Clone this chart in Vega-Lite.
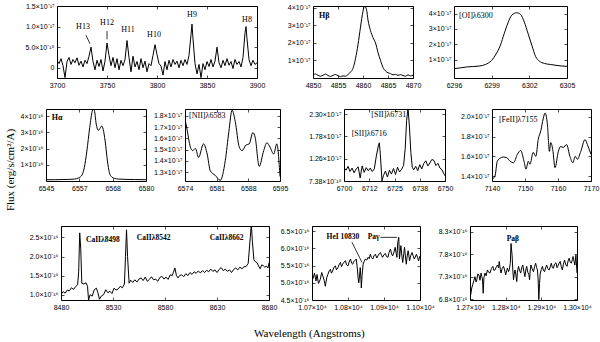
{
"$schema": "https://vega.github.io/schema/vega-lite/v6.json",
"padding": {"left": 4, "top": 1, "right": 0, "bottom": 0},
"title": {"text": "Flux (erg/s/cm²/A)", "orient": "left", "anchor": "middle", "offset": 4, "font": "Liberation Serif", "fontSize": 11, "fontWeight": 400, "color": "black"},
"datasets": {
"p1": [{"wl":3700,"flux":1.8},{"wl":3702,"flux":1.0},{"wl":3704,"flux":2.2},{"wl":3706,"flux":0.5},{"wl":3708,"flux":-2.4},{"wl":3710,"flux":1.5},{"wl":3712,"flux":2.5},{"wl":3714,"flux":0.8},{"wl":3716,"flux":2.0},{"wl":3718,"flux":1.2},{"wl":3720,"flux":2.4},{"wl":3722,"flux":0.6},{"wl":3724,"flux":1.6},{"wl":3726,"flux":0.2},{"wl":3728,"flux":1.8},{"wl":3730,"flux":1.0},{"wl":3732,"flux":2.8},{"wl":3734,"flux":5.0},{"wl":3736,"flux":1.5},{"wl":3738,"flux":-0.5},{"wl":3740,"flux":1.8},{"wl":3742,"flux":0.3},{"wl":3744,"flux":2.0},{"wl":3746,"flux":-0.8},{"wl":3748,"flux":1.6},{"wl":3750,"flux":6.0},{"wl":3752,"flux":3.0},{"wl":3754,"flux":0.5},{"wl":3756,"flux":2.5},{"wl":3758,"flux":0.0},{"wl":3760,"flux":2.2},{"wl":3762,"flux":-0.5},{"wl":3764,"flux":1.8},{"wl":3766,"flux":0.5},{"wl":3768,"flux":2.0},{"wl":3770,"flux":6.6},{"wl":3772,"flux":2.5},{"wl":3774,"flux":-1.0},{"wl":3776,"flux":2.8},{"wl":3778,"flux":0.2},{"wl":3780,"flux":1.5},{"wl":3782,"flux":-0.5},{"wl":3784,"flux":2.2},{"wl":3786,"flux":0.0},{"wl":3788,"flux":1.6},{"wl":3790,"flux":-1.0},{"wl":3792,"flux":1.0},{"wl":3794,"flux":0.5},{"wl":3796,"flux":3.0},{"wl":3798,"flux":5.6},{"wl":3800,"flux":3.2},{"wl":3802,"flux":1.0},{"wl":3804,"flux":0.4},{"wl":3806,"flux":-1.8},{"wl":3808,"flux":1.5},{"wl":3810,"flux":-0.5},{"wl":3812,"flux":1.8},{"wl":3814,"flux":0.2},{"wl":3816,"flux":2.0},{"wl":3818,"flux":0.8},{"wl":3820,"flux":1.6},{"wl":3822,"flux":0.0},{"wl":3824,"flux":1.8},{"wl":3826,"flux":0.5},{"wl":3828,"flux":2.0},{"wl":3830,"flux":0.8},{"wl":3832,"flux":3.0},{"wl":3834,"flux":8.0},{"wl":3835,"flux":10.6},{"wl":3836,"flux":7.0},{"wl":3838,"flux":1.0},{"wl":3840,"flux":-1.5},{"wl":3842,"flux":0.8},{"wl":3844,"flux":-2.4},{"wl":3846,"flux":1.0},{"wl":3848,"flux":-0.5},{"wl":3850,"flux":1.5},{"wl":3852,"flux":0.3},{"wl":3854,"flux":2.0},{"wl":3856,"flux":0.2},{"wl":3858,"flux":1.6},{"wl":3860,"flux":5.0},{"wl":3862,"flux":1.2},{"wl":3864,"flux":0.0},{"wl":3866,"flux":1.8},{"wl":3868,"flux":0.5},{"wl":3870,"flux":2.2},{"wl":3872,"flux":0.6},{"wl":3874,"flux":1.5},{"wl":3876,"flux":-0.2},{"wl":3878,"flux":2.0},{"wl":3880,"flux":0.8},{"wl":3882,"flux":1.5},{"wl":3884,"flux":0.2},{"wl":3886,"flux":2.5},{"wl":3888,"flux":8.5},{"wl":3889,"flux":10.0},{"wl":3890,"flux":7.0},{"wl":3892,"flux":2.0},{"wl":3894,"flux":0.5},{"wl":3896,"flux":1.8},{"wl":3898,"flux":0.8},{"wl":3900,"flux":1.2}],
"p1t": [{"wl":3726,"flux":9.9,"text":"H13"},{"wl":3750,"flux":10.9,"text":"H12"},{"wl":3771,"flux":9.1,"text":"H11"},{"wl":3797,"flux":7.9,"text":"H10"},{"wl":3835,"flux":12.7,"text":"H9"},{"wl":3890,"flux":11.5,"text":"H8"}],
"p1r": [{"wl":3729,"flux":7.9,"wl2":3733,"flux2":5.8},{"wl":3750,"flux":8.9,"wl2":3750,"flux2":6.9}],
"hb": [{"wl":4850,"flux":1.8},{"wl":4850.5,"flux":2.3},{"wl":4851,"flux":1.5},{"wl":4851.5,"flux":1.0},{"wl":4852,"flux":1.6},{"wl":4852.5,"flux":2.2},{"wl":4853,"flux":1.4},{"wl":4853.5,"flux":0.9},{"wl":4854,"flux":1.5},{"wl":4854.5,"flux":2.0},{"wl":4855,"flux":1.3},{"wl":4855.5,"flux":0.8},{"wl":4856,"flux":1.2},{"wl":4856.5,"flux":1.0},{"wl":4857,"flux":2.0},{"wl":4857.5,"flux":3.4},{"wl":4858,"flux":5.5},{"wl":4858.5,"flux":11},{"wl":4859,"flux":19},{"wl":4859.5,"flux":29},{"wl":4860,"flux":38},{"wl":4860.3,"flux":41},{"wl":4860.7,"flux":39},{"wl":4861,"flux":33},{"wl":4861.5,"flux":27},{"wl":4862,"flux":23},{"wl":4862.5,"flux":20},{"wl":4863,"flux":14.5},{"wl":4863.5,"flux":10},{"wl":4864,"flux":6},{"wl":4864.5,"flux":4},{"wl":4865,"flux":3},{"wl":4865.5,"flux":2.5},{"wl":4866,"flux":1.8},{"wl":4866.5,"flux":2.1},{"wl":4867,"flux":1.5},{"wl":4867.5,"flux":1.9},{"wl":4868,"flux":1.4},{"wl":4868.5,"flux":1.0},{"wl":4869,"flux":1.8},{"wl":4869.5,"flux":1.2},{"wl":4870,"flux":1.6}],
"hbt": [{"wl":4851.2,"flux":35.5,"text":"Hβ"}],
"oi": [{"wl":6296,"flux":4.1},{"wl":6296.5,"flux":4.6},{"wl":6297,"flux":5.2},{"wl":6297.5,"flux":5.5},{"wl":6298,"flux":5.8},{"wl":6298.5,"flux":6.8},{"wl":6299,"flux":9.5},{"wl":6299.3,"flux":13},{"wl":6299.7,"flux":19.5},{"wl":6300,"flux":27},{"wl":6300.3,"flux":34},{"wl":6300.6,"flux":39},{"wl":6301,"flux":40.6},{"wl":6301.3,"flux":39.5},{"wl":6301.6,"flux":34.5},{"wl":6301.9,"flux":27},{"wl":6302.2,"flux":19.3},{"wl":6302.5,"flux":12},{"wl":6302.8,"flux":9},{"wl":6303.2,"flux":7.5},{"wl":6303.7,"flux":6.8},{"wl":6304.2,"flux":6.2},{"wl":6304.6,"flux":5.8},{"wl":6305,"flux":5.6}],
"oit": [{"wl":6296.4,"flux":38.5,"text":"[OI]λ6300"}],
"ha": [{"wl":6545,"flux":8},{"wl":6548,"flux":8},{"wl":6551,"flux":9},{"wl":6553,"flux":10},{"wl":6555,"flux":12},{"wl":6556.5,"flux":20},{"wl":6557.6,"flux":37},{"wl":6558.4,"flux":82},{"wl":6559.3,"flux":185},{"wl":6560.3,"flux":330},{"wl":6561.2,"flux":432},{"wl":6561.7,"flux":445},{"wl":6562.1,"flux":420},{"wl":6562.5,"flux":360},{"wl":6563.0,"flux":322},{"wl":6563.4,"flux":313},{"wl":6563.9,"flux":325},{"wl":6564.5,"flux":340},{"wl":6565.0,"flux":320},{"wl":6565.7,"flux":247},{"wl":6566.5,"flux":124},{"wl":6567.2,"flux":51},{"wl":6568,"flux":25},{"wl":6569,"flux":16},{"wl":6570.4,"flux":12},{"wl":6573,"flux":10},{"wl":6576,"flux":9},{"wl":6580,"flux":8}],
"hat": [{"wl":6547,"flux":390,"text":"Hα"}],
"nii": [{"wl":6574.0,"flux":17.7},{"wl":6574.4,"flux":16.9},{"wl":6575.2,"flux":15.2},{"wl":6575.7,"flux":14.9},{"wl":6576.3,"flux":15.1},{"wl":6577.0,"flux":14.3},{"wl":6578.1,"flux":15.5},{"wl":6578.9,"flux":14.6},{"wl":6579.6,"flux":13.1},{"wl":6580.7,"flux":12.7},{"wl":6581.8,"flux":12.26},{"wl":6582.9,"flux":14.0},{"wl":6583.7,"flux":16.6},{"wl":6584.4,"flux":18.5},{"wl":6585.1,"flux":17.5},{"wl":6586.0,"flux":15.2},{"wl":6586.6,"flux":14.9},{"wl":6587.5,"flux":15.4},{"wl":6588.2,"flux":15.5},{"wl":6589.0,"flux":16.5},{"wl":6589.5,"flux":16.1},{"wl":6590.4,"flux":13.5},{"wl":6591.4,"flux":14.9},{"wl":6592.1,"flux":15.6},{"wl":6592.8,"flux":15.2},{"wl":6593.6,"flux":14.6},{"wl":6594.3,"flux":15.5},{"wl":6595.0,"flux":12.6}],
"niit": [{"wl":6574.9,"flux":18.0,"text":"[NII]λ6583"}],
"sii": [{"wl":6700,"flux":10.5},{"wl":6701,"flux":9.9},{"wl":6702,"flux":10.8},{"wl":6703,"flux":9.6},{"wl":6704,"flux":10.4},{"wl":6705,"flux":9.3},{"wl":6706,"flux":10.2},{"wl":6707,"flux":10.7},{"wl":6708,"flux":8.1},{"wl":6709,"flux":10.9},{"wl":6710,"flux":9.4},{"wl":6711,"flux":10.5},{"wl":6712,"flux":9.8},{"wl":6713,"flux":10.4},{"wl":6714,"flux":9.6},{"wl":6715,"flux":10.2},{"wl":6716,"flux":13.2},{"wl":6717,"flux":15.6},{"wl":6717.5,"flux":16.3},{"wl":6718,"flux":13.5},{"wl":6718.8,"flux":7.4},{"wl":6719.5,"flux":8.6},{"wl":6720.5,"flux":9.7},{"wl":6721.5,"flux":8.3},{"wl":6722.5,"flux":9.9},{"wl":6723.5,"flux":9.0},{"wl":6724.5,"flux":10.3},{"wl":6725.5,"flux":8.9},{"wl":6726.5,"flux":10.6},{"wl":6727.5,"flux":9.5},{"wl":6728.5,"flux":10.1},{"wl":6729.5,"flux":11.0},{"wl":6730.3,"flux":15.0},{"wl":6731,"flux":21.5},{"wl":6731.7,"flux":24.5},{"wl":6732.4,"flux":20.0},{"wl":6733.1,"flux":14.0},{"wl":6733.8,"flux":10.6},{"wl":6734.5,"flux":10.0},{"wl":6735.5,"flux":10.8},{"wl":6736.5,"flux":9.8},{"wl":6737.5,"flux":11.2},{"wl":6738.5,"flux":10.2},{"wl":6739.5,"flux":11.5},{"wl":6740.5,"flux":12.1},{"wl":6741.5,"flux":10.9},{"wl":6742.5,"flux":11.6},{"wl":6743.5,"flux":12.4},{"wl":6744.5,"flux":12.2},{"wl":6745.5,"flux":11.0},{"wl":6746.5,"flux":11.5},{"wl":6747.5,"flux":10.4},{"wl":6748.5,"flux":10.0},{"wl":6749.3,"flux":9.2},{"wl":6750,"flux":8.6}],
"siit": [{"wl":6713.5,"flux":22.8,"text":"[SII]λ6731"},{"wl":6703.8,"flux":18.3,"text":"[SII]λ6716"}],
"feii": [{"wl":7140,"flux":13.67},{"wl":7140.9,"flux":14.0},{"wl":7141.6,"flux":15.5},{"wl":7142.4,"flux":15.8},{"wl":7143.4,"flux":15.93},{"wl":7144.5,"flux":15.86},{"wl":7145.5,"flux":15.5},{"wl":7146.5,"flux":15.35},{"wl":7147.7,"flux":16.2},{"wl":7148.7,"flux":16.6},{"wl":7149.7,"flux":15.5},{"wl":7150.3,"flux":14.7},{"wl":7151,"flux":15.5},{"wl":7151.5,"flux":15.2},{"wl":7152.5,"flux":16.4},{"wl":7153.3,"flux":16.0},{"wl":7154,"flux":17.7},{"wl":7154.8,"flux":18.6},{"wl":7155.5,"flux":19.8},{"wl":7156.1,"flux":20.4},{"wl":7156.8,"flux":19.2},{"wl":7157.4,"flux":16.5},{"wl":7157.8,"flux":17.4},{"wl":7158.4,"flux":16.7},{"wl":7159.1,"flux":14.85},{"wl":7160.1,"flux":16.5},{"wl":7160.8,"flux":17.0},{"wl":7161.6,"flux":16.9},{"wl":7162.6,"flux":17.2},{"wl":7163.6,"flux":16.0},{"wl":7164.5,"flux":15.35},{"wl":7165.2,"flux":16.0},{"wl":7165.9,"flux":15.7},{"wl":7166.9,"flux":16.5},{"wl":7168.2,"flux":17.7},{"wl":7168.9,"flux":17.2},{"wl":7170,"flux":16.2}],
"feiit": [{"wl":7142.1,"flux":19.65,"text":"[FeII]λ7155"}],
"ca": [{"wl":8480,"flux":100},{"wl":8482,"flux":108},{"wl":8484,"flux":104},{"wl":8486,"flux":112},{"wl":8488,"flux":110},{"wl":8490,"flux":118},{"wl":8492,"flux":114},{"wl":8494,"flux":121},{"wl":8496,"flux":126},{"wl":8497,"flux":160},{"wl":8498,"flux":262},{"wl":8499,"flux":220},{"wl":8500,"flux":130},{"wl":8502,"flux":128},{"wl":8504,"flux":131},{"wl":8505.5,"flux":122},{"wl":8506.5,"flux":86},{"wl":8508,"flux":100},{"wl":8510,"flux":96},{"wl":8512,"flux":113},{"wl":8514,"flux":117},{"wl":8515.5,"flux":105},{"wl":8517,"flux":88},{"wl":8519,"flux":97},{"wl":8521,"flux":100},{"wl":8523,"flux":113},{"wl":8525,"flux":105},{"wl":8527,"flux":109},{"wl":8529,"flux":103},{"wl":8531,"flux":117},{"wl":8533,"flux":112},{"wl":8535,"flux":115},{"wl":8537,"flux":122},{"wl":8539,"flux":118},{"wl":8541,"flux":128},{"wl":8542,"flux":200},{"wl":8543,"flux":270},{"wl":8544,"flux":200},{"wl":8545.5,"flux":130},{"wl":8547,"flux":138},{"wl":8549,"flux":132},{"wl":8551,"flux":139},{"wl":8553,"flux":133},{"wl":8555,"flux":141},{"wl":8557,"flux":144},{"wl":8559,"flux":137},{"wl":8561,"flux":146},{"wl":8563,"flux":135},{"wl":8565,"flux":140},{"wl":8567,"flux":147},{"wl":8569,"flux":139},{"wl":8571,"flux":141},{"wl":8573,"flux":135},{"wl":8575,"flux":145},{"wl":8577,"flux":148},{"wl":8579,"flux":141},{"wl":8581,"flux":146},{"wl":8583,"flux":140},{"wl":8585,"flux":152},{"wl":8587,"flux":150},{"wl":8588,"flux":158},{"wl":8589.5,"flux":170},{"wl":8591,"flux":150},{"wl":8592.5,"flux":144},{"wl":8594,"flux":150},{"wl":8596,"flux":152},{"wl":8598,"flux":147},{"wl":8600,"flux":155},{"wl":8602,"flux":150},{"wl":8604,"flux":158},{"wl":8606,"flux":153},{"wl":8608,"flux":160},{"wl":8610,"flux":156},{"wl":8612,"flux":162},{"wl":8614,"flux":157},{"wl":8616,"flux":163},{"wl":8618,"flux":158},{"wl":8620,"flux":164},{"wl":8622,"flux":160},{"wl":8624,"flux":167},{"wl":8626,"flux":161},{"wl":8628,"flux":165},{"wl":8630,"flux":158},{"wl":8632,"flux":166},{"wl":8634,"flux":171},{"wl":8636,"flux":163},{"wl":8638,"flux":167},{"wl":8640,"flux":161},{"wl":8642,"flux":165},{"wl":8644,"flux":158},{"wl":8646,"flux":166},{"wl":8648,"flux":170},{"wl":8650,"flux":165},{"wl":8652,"flux":172},{"wl":8654,"flux":168},{"wl":8656,"flux":173},{"wl":8658,"flux":174},{"wl":8660,"flux":182},{"wl":8662,"flux":250},{"wl":8663,"flux":285},{"wl":8664,"flux":240},{"wl":8665.5,"flux":191},{"wl":8667,"flux":186},{"wl":8668.5,"flux":184},{"wl":8670,"flux":175},{"wl":8671.5,"flux":168},{"wl":8673,"flux":178},{"wl":8674.5,"flux":176},{"wl":8676,"flux":172},{"wl":8677.5,"flux":175},{"wl":8679,"flux":170},{"wl":8680,"flux":184}],
"cat": [{"wl":8504,"flux":244,"text":"CaIIλ8498"},{"wl":8552.8,"flux":248,"text":"CaIIλ8542"},{"wl":8623,"flux":248,"text":"CaIIλ8662"}],
"hei": [{"wl":10700,"flux":515},{"wl":10703,"flux":512},{"wl":10707,"flux":528},{"wl":10711,"flux":505},{"wl":10714,"flux":524},{"wl":10718,"flux":498},{"wl":10723,"flux":510},{"wl":10727,"flux":530},{"wl":10730,"flux":520},{"wl":10734,"flux":506},{"wl":10737,"flux":490},{"wl":10741,"flux":515},{"wl":10744,"flux":524},{"wl":10748,"flux":535},{"wl":10751,"flux":539},{"wl":10754,"flux":528},{"wl":10757,"flux":534},{"wl":10761,"flux":545},{"wl":10765,"flux":549},{"wl":10768,"flux":538},{"wl":10772,"flux":544},{"wl":10775,"flux":552},{"wl":10779,"flux":559},{"wl":10782,"flux":547},{"wl":10785,"flux":554},{"wl":10789,"flux":560},{"wl":10793,"flux":564},{"wl":10796,"flux":552},{"wl":10800,"flux":549},{"wl":10803,"flux":560},{"wl":10807,"flux":569},{"wl":10810,"flux":557},{"wl":10813,"flux":554},{"wl":10816,"flux":562},{"wl":10819,"flux":564},{"wl":10823,"flux":569},{"wl":10826,"flux":540},{"wl":10828,"flux":515},{"wl":10830,"flux":500},{"wl":10832,"flux":520},{"wl":10834,"flux":544},{"wl":10836,"flux":510},{"wl":10837,"flux":485},{"wl":10839,"flux":520},{"wl":10842,"flux":554},{"wl":10845,"flux":562},{"wl":10848,"flux":569},{"wl":10852,"flux":566},{"wl":10856,"flux":574},{"wl":10859,"flux":570},{"wl":10862,"flux":583},{"wl":10865,"flux":574},{"wl":10869,"flux":569},{"wl":10872,"flux":578},{"wl":10876,"flux":583},{"wl":10880,"flux":572},{"wl":10883,"flux":578},{"wl":10887,"flux":585},{"wl":10890,"flux":588},{"wl":10893,"flux":580},{"wl":10896,"flux":574},{"wl":10900,"flux":582},{"wl":10904,"flux":585},{"wl":10907,"flux":576},{"wl":10911,"flux":574},{"wl":10914,"flux":588},{"wl":10918,"flux":598},{"wl":10921,"flux":584},{"wl":10924,"flux":578},{"wl":10928,"flux":590},{"wl":10931,"flux":603},{"wl":10934,"flux":585},{"wl":10936,"flux":574},{"wl":10938,"flux":615},{"wl":10941,"flux":632},{"wl":10943,"flux":569},{"wl":10945,"flux":590},{"wl":10947,"flux":608},{"wl":10950,"flux":575},{"wl":10952,"flux":559},{"wl":10955,"flux":585},{"wl":10957,"flux":603},{"wl":10960,"flux":572},{"wl":10962,"flux":554},{"wl":10964,"flux":575},{"wl":10967,"flux":593},{"wl":10969,"flux":580},{"wl":10971,"flux":564},{"wl":10974,"flux":578},{"wl":10978,"flux":588},{"wl":10981,"flux":578},{"wl":10984,"flux":569},{"wl":10987,"flux":575},{"wl":10990,"flux":583},{"wl":10993,"flux":574},{"wl":10996,"flux":564},{"wl":10998,"flux":572},{"wl":11000,"flux":578}],
"heit": [{"wl":10786,"flux":632,"text":"HeI 10830"},{"wl":10871,"flux":632,"text":"Paγ"}],
"heir": [{"wl":10811,"flux":618,"wl2":10839,"flux2":559},{"wl":10890,"flux":632,"wl2":10936,"flux2":632}],
"pb": [{"wl":12700,"flux":700},{"wl":12702,"flux":690},{"wl":12705,"flux":705},{"wl":12707.5,"flux":712},{"wl":12711,"flux":722},{"wl":12714,"flux":730},{"wl":12717,"flux":718},{"wl":12719,"flux":723},{"wl":12722,"flux":736},{"wl":12725,"flux":734},{"wl":12728,"flux":722},{"wl":12731,"flux":738},{"wl":12733,"flux":730},{"wl":12735,"flux":725},{"wl":12737,"flux":693},{"wl":12739,"flux":728},{"wl":12742,"flux":738},{"wl":12745,"flux":732},{"wl":12749,"flux":745},{"wl":12752,"flux":740},{"wl":12756,"flux":738},{"wl":12760,"flux":748},{"wl":12764,"flux":753},{"wl":12767,"flux":744},{"wl":12770,"flux":745},{"wl":12774,"flux":752},{"wl":12777,"flux":756},{"wl":12780,"flux":750},{"wl":12782,"flux":764},{"wl":12785,"flux":746},{"wl":12787,"flux":738},{"wl":12790,"flux":748},{"wl":12794,"flux":753},{"wl":12797,"flux":745},{"wl":12800,"flux":734},{"wl":12803,"flux":744},{"wl":12805,"flux":749},{"wl":12808,"flux":741},{"wl":12810,"flux":745},{"wl":12813,"flux":760},{"wl":12815,"flux":804},{"wl":12818,"flux":778},{"wl":12820,"flux":745},{"wl":12822,"flux":723},{"wl":12824,"flux":735},{"wl":12826,"flux":745},{"wl":12828,"flux":738},{"wl":12831,"flux":719},{"wl":12833,"flux":740},{"wl":12836,"flux":753},{"wl":12839,"flux":744},{"wl":12842,"flux":738},{"wl":12845,"flux":750},{"wl":12848,"flux":756},{"wl":12851,"flux":742},{"wl":12854,"flux":730},{"wl":12857,"flux":748},{"wl":12859,"flux":753},{"wl":12862,"flux":740},{"wl":12865,"flux":735},{"wl":12867,"flux":723},{"wl":12869,"flux":745},{"wl":12871,"flux":756},{"wl":12874,"flux":748},{"wl":12878,"flux":741},{"wl":12881,"flux":752},{"wl":12884,"flux":760},{"wl":12887,"flux":750},{"wl":12889,"flux":745},{"wl":12891,"flux":725},{"wl":12893,"flux":679},{"wl":12895,"flux":715},{"wl":12897,"flux":738},{"wl":12900,"flux":746},{"wl":12903,"flux":753},{"wl":12906,"flux":744},{"wl":12909,"flux":741},{"wl":12912,"flux":750},{"wl":12915,"flux":756},{"wl":12918,"flux":748},{"wl":12922,"flux":745},{"wl":12925,"flux":752},{"wl":12928,"flux":760},{"wl":12931,"flux":750},{"wl":12934,"flux":749},{"wl":12937,"flux":758},{"wl":12941,"flux":761},{"wl":12944,"flux":750},{"wl":12946,"flux":753},{"wl":12950,"flux":760},{"wl":12953,"flux":764},{"wl":12956,"flux":752},{"wl":12959,"flux":745},{"wl":12962,"flux":758},{"wl":12965,"flux":767},{"wl":12969,"flux":756},{"wl":12972,"flux":753},{"wl":12975,"flux":765},{"wl":12978,"flux":771},{"wl":12981,"flux":762},{"wl":12984,"flux":760},{"wl":12987,"flux":768},{"wl":12989,"flux":775},{"wl":12992,"flux":763},{"wl":12994,"flux":756},{"wl":12997,"flux":778},{"wl":13000,"flux":738}],
"pbt": [{"wl":12820,"flux":815,"text":"Paβ"}]
},
"vconcat": [{
  "title": {"text": "Wavelength (Angstroms)", "orient": "bottom", "anchor": "middle", "offset": 17, "font": "Liberation Serif", "fontSize": 11, "fontWeight": 400, "color": "black"},
  "columns": 1, "align": "none", "spacing": {"row": 19, "column": 0},
  "concat": [
    {"bounds": "flush", "spacing": 0, "hconcat": [
      {"width": 11, "height": 72, "data": {"values": []}, "mark": "point", "view": {"stroke": null}},
      {"bounds": "flush", "spacing": 56, "hconcat": [
      {"width": 200, "height": 72, "resolve": {"axis": {"x": "independent", "y": "independent"}}, "layer": [
        {"data": {"name": "p1"}, "mark": {"type": "line", "color": "black", "strokeWidth": 1, "clip": true},
         "encoding": {"x": {"field": "wl", "type": "quantitative", "title": null, "scale": {"domain": [3700, 3900], "nice": false, "zero": false}, "axis": {"values": [3700, 3750, 3800, 3850, 3900], "format": "d"}},
                      "y": {"field": "flux", "type": "quantitative", "title": null, "scale": {"domain": [-2.5, 15], "nice": false, "zero": false}, "axis": {"values": [0, 5, 10, 15], "labelExpr": "datum.value == 0 ? '0' : datum.value < 7 ? '5.0×10⁻¹⁸' : format(datum.value/10, '.1f') + '×10⁻¹⁷'"}}}},
        {"data": {"name": "p1t"}, "mark": {"type": "text", "font": "Liberation Serif", "fontSize": 8, "color": "black", "align": "center", "baseline": "middle"},
         "encoding": {"x": {"field": "wl", "type": "quantitative", "title": null, "axis": {"orient": "top", "labels": false, "values": [3700, 3750, 3800, 3850, 3900]}}, "y": {"field": "flux", "type": "quantitative", "title": null, "axis": {"orient": "right", "labels": false, "values": [0, 5, 10, 15]}}, "text": {"field": "text"}}},
        {"data": {"name": "p1r"}, "mark": {"type": "rule", "color": "black", "strokeWidth": 0.8},
         "encoding": {"x": {"field": "wl", "type": "quantitative", "axis": null}, "y": {"field": "flux", "type": "quantitative", "axis": null}, "x2": {"field": "wl2"}, "y2": {"field": "flux2"}}}
      ]},
      {"bounds": "flush", "spacing": 41, "hconcat": [
        {"width": 100, "height": 72, "resolve": {"axis": {"x": "independent", "y": "independent"}}, "layer": [
          {"data": {"name": "hb"}, "mark": {"type": "line", "color": "black", "strokeWidth": 1, "clip": true, "interpolate": "monotone"},
           "encoding": {"x": {"field": "wl", "type": "quantitative", "title": null, "scale": {"domain": [4850, 4870], "nice": false, "zero": false}, "axis": {"values": [4850, 4855, 4860, 4865, 4870], "format": "d"}},
                        "y": {"field": "flux", "type": "quantitative", "title": null, "scale": {"domain": [0, 41], "nice": false, "zero": false}, "axis": {"values": [10, 20, 30, 40], "labelExpr": "format(datum.value/10, 'd') + '×10⁻¹⁷'"}}}},
          {"data": {"name": "hbt"}, "mark": {"type": "text", "font": "Liberation Serif", "fontSize": 8, "fontWeight": "bold", "color": "black", "align": "left", "baseline": "middle"},
           "encoding": {"x": {"field": "wl", "type": "quantitative", "title": null, "axis": {"orient": "top", "labels": false, "values": [4850, 4855, 4860, 4865, 4870]}}, "y": {"field": "flux", "type": "quantitative", "title": null, "axis": {"orient": "right", "labels": false, "values": [10, 20, 30, 40]}}, "text": {"field": "text"}}}
        ]},
        {"width": 113, "height": 72, "resolve": {"axis": {"x": "independent", "y": "independent"}}, "layer": [
          {"data": {"name": "oi"}, "mark": {"type": "line", "color": "black", "strokeWidth": 1, "clip": true, "interpolate": "monotone"},
           "encoding": {"x": {"field": "wl", "type": "quantitative", "title": null, "scale": {"domain": [6296, 6305], "nice": false, "zero": false}, "axis": {"values": [6296, 6299, 6302, 6305], "format": "d"}},
                        "y": {"field": "flux", "type": "quantitative", "title": null, "scale": {"domain": [-2, 45], "nice": false, "zero": false}, "axis": {"values": [10, 20, 30, 40], "labelExpr": "format(datum.value/10, 'd') + '×10⁻¹⁷'"}}}},
          {"data": {"name": "oit"}, "mark": {"type": "text", "font": "Liberation Serif", "fontSize": 8, "color": "black", "align": "left", "baseline": "middle"},
           "encoding": {"x": {"field": "wl", "type": "quantitative", "title": null, "axis": {"orient": "top", "labels": false, "values": [6296, 6299, 6302, 6305]}}, "y": {"field": "flux", "type": "quantitative", "title": null, "axis": {"orient": "right", "labels": false, "values": [10, 20, 30, 40]}}, "text": {"field": "text"}}}
        ]}
      ]}
      ]}
    ]},
    {"columns": 1, "align": "none", "spacing": {"row": 33, "column": 0}, "concat": [
      {"bounds": "flush", "spacing": 39, "hconcat": [
        {"width": 100, "height": 72, "resolve": {"axis": {"x": "independent", "y": "independent"}}, "layer": [
          {"data": {"name": "ha"}, "mark": {"type": "line", "color": "black", "strokeWidth": 1, "clip": true, "interpolate": "monotone"},
           "encoding": {"x": {"field": "wl", "type": "quantitative", "title": null, "scale": {"domain": [6545, 6580], "nice": false, "zero": false}, "axis": {"values": [6545, 6556.667, 6568.333, 6580], "format": "d"}},
                        "y": {"field": "flux", "type": "quantitative", "title": null, "scale": {"domain": [0, 445], "nice": false, "zero": false}, "axis": {"values": [100, 200, 300, 400], "labelExpr": "format(datum.value/100, 'd') + '×10⁻¹⁶'"}}}},
          {"data": {"name": "hat"}, "mark": {"type": "text", "font": "Liberation Serif", "fontSize": 8, "fontWeight": "bold", "color": "black", "align": "left", "baseline": "middle"},
           "encoding": {"x": {"field": "wl", "type": "quantitative", "title": null, "axis": {"orient": "top", "labels": false, "values": [6545, 6556.667, 6568.333, 6580]}}, "y": {"field": "flux", "type": "quantitative", "title": null, "axis": {"orient": "right", "labels": false, "values": [100, 200, 300, 400]}}, "text": {"field": "text"}}}
        ]},
        {"bounds": "flush", "spacing": 64, "hconcat": [
          {"width": 95, "height": 72, "resolve": {"axis": {"x": "independent", "y": "independent"}}, "layer": [
            {"data": {"name": "nii"}, "mark": {"type": "line", "color": "black", "strokeWidth": 1, "clip": true, "interpolate": "monotone"},
             "encoding": {"x": {"field": "wl", "type": "quantitative", "title": null, "scale": {"domain": [6574, 6595], "nice": false, "zero": false}, "axis": {"values": [6574, 6581, 6588, 6595], "format": "d"}},
                          "y": {"field": "flux", "type": "quantitative", "title": null, "scale": {"domain": [12.2, 18.6], "nice": false, "zero": false}, "axis": {"values": [13, 14, 15, 16, 17, 18], "labelExpr": "format(datum.value/10, '.1f') + '×10⁻¹⁷'"}}}},
            {"data": {"name": "niit"}, "mark": {"type": "text", "font": "Liberation Serif", "fontSize": 8, "color": "black", "align": "left", "baseline": "middle"},
             "encoding": {"x": {"field": "wl", "type": "quantitative", "title": null, "axis": {"orient": "top", "labels": false, "values": [6574, 6581, 6588, 6595]}}, "y": {"field": "flux", "type": "quantitative", "title": null, "axis": {"orient": "right", "labels": false, "values": [13, 14, 15, 16, 17, 18]}}, "text": {"field": "text"}}}
          ]},
          {"bounds": "flush", "spacing": 47, "hconcat": [
            {"width": 101, "height": 72, "resolve": {"axis": {"x": "independent", "y": "independent"}}, "layer": [
              {"data": {"name": "sii"}, "mark": {"type": "line", "color": "black", "strokeWidth": 1, "clip": true},
               "encoding": {"x": {"field": "wl", "type": "quantitative", "title": null, "scale": {"domain": [6700, 6750], "nice": false, "zero": false}, "axis": {"values": [6700, 6712.49, 6725, 6737.51, 6750], "format": "d"}},
                            "y": {"field": "flux", "type": "quantitative", "title": null, "scale": {"domain": [7.38, 24.2], "nice": false, "zero": false}, "axis": {"values": [7.38, 12.6, 17.8, 23.0], "labelExpr": "datum.value < 10 ? '7.38×10⁻¹⁸' : format(datum.value/10, '.2f') + '×10⁻¹⁷'"}}}},
              {"data": {"name": "siit"}, "mark": {"type": "text", "font": "Liberation Serif", "fontSize": 8, "color": "black", "align": "left", "baseline": "middle"},
               "encoding": {"x": {"field": "wl", "type": "quantitative", "title": null, "axis": {"orient": "top", "labels": false, "values": [6700, 6712.49, 6725, 6737.51, 6750]}}, "y": {"field": "flux", "type": "quantitative", "title": null, "axis": {"orient": "right", "labels": false, "values": [7.38, 12.6, 17.8, 23.0]}}, "text": {"field": "text"}}}
            ]},
            {"width": 99, "height": 72, "resolve": {"axis": {"x": "independent", "y": "independent"}}, "layer": [
              {"data": {"name": "feii"}, "mark": {"type": "line", "color": "black", "strokeWidth": 1, "clip": true, "interpolate": "monotone"},
               "encoding": {"x": {"field": "wl", "type": "quantitative", "title": null, "scale": {"domain": [7140, 7170], "nice": false, "zero": false}, "axis": {"values": [7140, 7150, 7160, 7170], "format": "d"}},
                            "y": {"field": "flux", "type": "quantitative", "title": null, "scale": {"domain": [13.5, 20.8], "nice": false, "zero": false}, "axis": {"values": [14, 16, 18, 20], "labelExpr": "format(datum.value/10, '.1f') + '×10⁻¹⁷'"}}}},
              {"data": {"name": "feiit"}, "mark": {"type": "text", "font": "Liberation Serif", "fontSize": 8, "color": "black", "align": "left", "baseline": "middle"},
               "encoding": {"x": {"field": "wl", "type": "quantitative", "title": null, "axis": {"orient": "top", "labels": false, "values": [7140, 7150, 7160, 7170]}}, "y": {"field": "flux", "type": "quantitative", "title": null, "axis": {"orient": "right", "labels": false, "values": [14, 16, 18, 20]}}, "text": {"field": "text"}}}
            ]}
          ]}
        ]}
      ]},
      {"bounds": "flush", "spacing": 0, "hconcat": [
        {"width": 15, "height": 74, "data": {"values": []}, "mark": "point", "view": {"stroke": null}},
        {"bounds": "flush", "spacing": 43, "hconcat": [
        {"width": 208, "height": 74, "resolve": {"axis": {"x": "independent", "y": "independent"}}, "layer": [
          {"data": {"name": "ca"}, "mark": {"type": "line", "color": "black", "strokeWidth": 1, "clip": true},
           "encoding": {"x": {"field": "wl", "type": "quantitative", "title": null, "scale": {"domain": [8480, 8680], "nice": false, "zero": false}, "axis": {"values": [8480, 8530, 8580, 8630, 8680], "format": "d"}},
                        "y": {"field": "flux", "type": "quantitative", "title": null, "scale": {"domain": [86, 280], "nice": false, "zero": false}, "axis": {"values": [100, 150, 200, 250], "labelExpr": "format(datum.value/100, '.1f') + '×10⁻¹⁶'"}}}},
          {"data": {"name": "cat"}, "mark": {"type": "text", "font": "Liberation Serif", "fontSize": 7.5, "fontWeight": "bold", "color": "black", "align": "left", "baseline": "middle"},
           "encoding": {"x": {"field": "wl", "type": "quantitative", "title": null, "axis": {"orient": "top", "labels": false, "values": [8480, 8530, 8580, 8630, 8680]}}, "y": {"field": "flux", "type": "quantitative", "title": null, "axis": {"orient": "right", "labels": false, "values": [100, 150, 200, 250]}}, "text": {"field": "text"}}}
        ]},
        {"bounds": "flush", "spacing": 50, "hconcat": [
          {"width": 108, "height": 74, "resolve": {"axis": {"x": "independent", "y": "independent"}}, "layer": [
            {"data": {"name": "hei"}, "mark": {"type": "line", "color": "black", "strokeWidth": 1, "clip": true},
             "encoding": {"x": {"field": "wl", "type": "quantitative", "title": null, "scale": {"domain": [10700, 11000], "nice": false, "zero": false}, "axis": {"values": [10700, 10800, 10900, 11000], "labelExpr": "format(datum.value/10000, '.2f') + '×10⁴'"}},
                          "y": {"field": "flux", "type": "quantitative", "title": null, "scale": {"domain": [450, 665], "nice": false, "zero": false}, "axis": {"values": [450, 500, 550, 600, 650], "labelExpr": "format(datum.value/100, '.1f') + '×10⁻¹⁶'"}}}},
            {"data": {"name": "heit"}, "mark": {"type": "text", "font": "Liberation Serif", "fontSize": 7.5, "fontWeight": "bold", "color": "black", "align": "center", "baseline": "middle"},
             "encoding": {"x": {"field": "wl", "type": "quantitative", "title": null, "axis": {"orient": "top", "labels": false, "values": [10700, 10800, 10900, 11000]}}, "y": {"field": "flux", "type": "quantitative", "title": null, "axis": {"orient": "right", "labels": false, "values": [450, 500, 550, 600, 650]}}, "text": {"field": "text"}}},
            {"data": {"name": "heir"}, "mark": {"type": "rule", "color": "black", "strokeWidth": 0.8},
             "encoding": {"x": {"field": "wl", "type": "quantitative", "axis": null}, "y": {"field": "flux", "type": "quantitative", "axis": null}, "x2": {"field": "wl2"}, "y2": {"field": "flux2"}}}
          ]},
          {"width": 107, "height": 74, "resolve": {"axis": {"x": "independent", "y": "independent"}}, "layer": [
            {"data": {"name": "pb"}, "mark": {"type": "line", "color": "black", "strokeWidth": 1, "clip": true},
             "encoding": {"x": {"field": "wl", "type": "quantitative", "title": null, "scale": {"domain": [12700, 13000], "nice": false, "zero": false}, "axis": {"values": [12700, 12800, 12900, 13000], "labelExpr": "format(datum.value/10000, '.2f') + '×10⁴'"}},
                          "y": {"field": "flux", "type": "quantitative", "title": null, "scale": {"domain": [678, 843], "nice": false, "zero": false}, "axis": {"values": [680, 730, 780, 830], "labelExpr": "format(datum.value/100, '.1f') + '×10⁻¹⁶'"}}}},
            {"data": {"name": "pbt"}, "mark": {"type": "text", "font": "Liberation Serif", "fontSize": 7.5, "fontWeight": "bold", "color": "black", "align": "center", "baseline": "middle"},
             "encoding": {"x": {"field": "wl", "type": "quantitative", "title": null, "axis": {"orient": "top", "labels": false, "values": [12700, 12800, 12900, 13000]}}, "y": {"field": "flux", "type": "quantitative", "title": null, "axis": {"orient": "right", "labels": false, "values": [680, 730, 780, 830]}}, "text": {"field": "text"}}}
          ]}
        ]}
        ]}
      ]}
    ]}
  ]
}],
"config": {
  "background": "white",
  "view": {"stroke": "black", "strokeWidth": 1},
  "title": {"font": "Liberation Serif", "fontSize": 11, "fontWeight": 400, "color": "black"},
  "axis": {"grid": false, "domain": false, "ticks": true, "tickSize": -3, "tickColor": "black", "tickWidth": 0.7, "tickCount": 30, "labelFont": "Liberation Sans", "labelFontSize": 7, "labelColor": "black", "labelPadding": 6, "labelOverlap": false, "labelFlush": false, "labelBound": false},
  "text": {"font": "Liberation Serif"}
}
}
